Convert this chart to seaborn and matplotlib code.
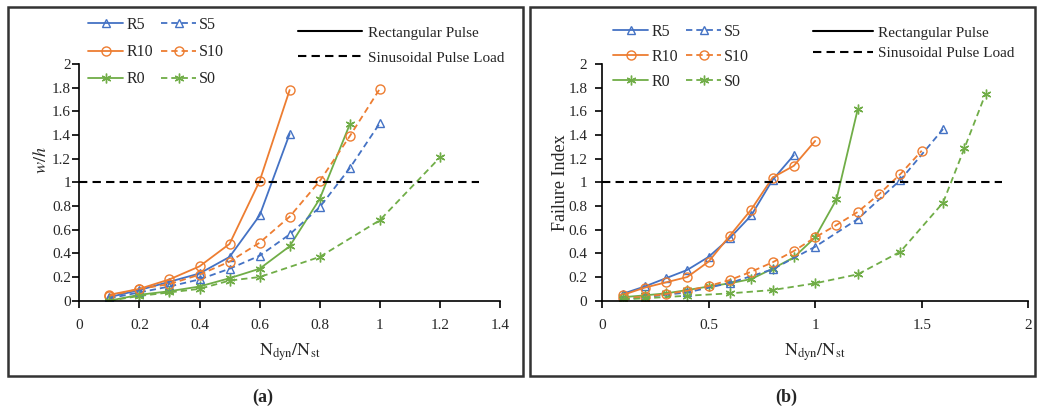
import numpy as np
import pandas as pd
import seaborn as sns
import matplotlib
matplotlib.use("Agg")
import matplotlib.pyplot as plt
from matplotlib.patches import Rectangle

# ---------------- data: panel (a) w/h ----------------
a_R5_x = [0.1, 0.2, 0.3, 0.4, 0.5, 0.6, 0.7]
a_R5_y = [0.03, 0.09, 0.16, 0.23, 0.37, 0.72, 1.41]
a_R10_x = [0.1, 0.2, 0.3, 0.4, 0.5, 0.6, 0.7]
a_R10_y = [0.05, 0.10, 0.18, 0.29, 0.48, 1.01, 1.78]
a_R0_x = [0.1, 0.2, 0.3, 0.4, 0.5, 0.6, 0.7, 0.8, 0.9]
a_R0_y = [0.0, 0.05, 0.08, 0.12, 0.19, 0.27, 0.46, 0.86, 1.49]
a_S5_x = [0.1, 0.2, 0.3, 0.4, 0.5, 0.6, 0.7, 0.8, 0.9, 1.0]
a_S5_y = [0.02, 0.07, 0.12, 0.18, 0.27, 0.38, 0.56, 0.79, 1.12, 1.50]
a_S10_x = [0.1, 0.2, 0.3, 0.4, 0.5, 0.6, 0.7, 0.8, 0.9, 1.0]
a_S10_y = [0.04, 0.10, 0.14, 0.22, 0.33, 0.49, 0.71, 1.01, 1.39, 1.79]
a_S0_x = [0.1, 0.2, 0.3, 0.4, 0.5, 0.6, 0.8, 1.0, 1.2]
a_S0_y = [0.0, 0.04, 0.07, 0.10, 0.17, 0.20, 0.37, 0.68, 1.21]

# ---------------- data: panel (b) failure index ----------------
b_R5_x = [0.1, 0.2, 0.3, 0.4, 0.5, 0.6, 0.7, 0.8, 0.9]
b_R5_y = [0.06, 0.12, 0.19, 0.26, 0.37, 0.53, 0.72, 1.02, 1.23]
b_R10_x = [0.1, 0.2, 0.3, 0.4, 0.5, 0.6, 0.7, 0.8, 0.9, 1.0]
b_R10_y = [0.05, 0.11, 0.155, 0.20, 0.33, 0.55, 0.77, 1.04, 1.14, 1.35]
b_R0_x = [0.1, 0.2, 0.3, 0.4, 0.5, 0.6, 0.7, 0.8, 0.9, 1.0, 1.1, 1.2]
b_R0_y = [0.03, 0.045, 0.062, 0.09, 0.12, 0.147, 0.183, 0.27, 0.366, 0.535, 0.856, 1.62]
b_S5_x = [0.1, 0.2, 0.4, 0.6, 0.8, 1.0, 1.2, 1.4, 1.6]
b_S5_y = [0.01, 0.03, 0.07, 0.15, 0.265, 0.456, 0.69, 1.02, 1.45]
b_S10_x = [0.1, 0.2, 0.3, 0.4, 0.5, 0.6, 0.7, 0.8, 0.9, 1.0, 1.1, 1.2, 1.3, 1.4, 1.5]
b_S10_y = [0.02, 0.034, 0.056, 0.084, 0.124, 0.175, 0.245, 0.324, 0.42, 0.535, 0.64, 0.75, 0.90, 1.07, 1.267]
b_S0_x = [0.1, 0.2, 0.4, 0.6, 0.8, 1.0, 1.2, 1.4, 1.6, 1.7, 1.8]
b_S0_y = [0.012, 0.02, 0.042, 0.062, 0.09, 0.147, 0.223, 0.414, 0.828, 1.287, 1.75]

series_names = ["R5", "R10", "R0", "S5", "S10", "S0"]
a_xticks = [0, 0.2, 0.4, 0.6, 0.8, 1, 1.2, 1.4]
a_xticklabels = ["0", "0.2", "0.4", "0.6", "0.8", "1", "1.2", "1.4"]
b_xticks = [0, 0.5, 1, 1.5, 2]
b_xticklabels = ["0", "0.5", "1", "1.5", "2"]
yticks = [0, 0.2, 0.4, 0.6, 0.8, 1, 1.2, 1.4, 1.6, 1.8, 2]
yticklabels = ["0", "0.2", "0.4", "0.6", "0.8", "1", "1.2", "1.4", "1.6", "1.8", "2"]
threshold = 1.0

panel_a = {
    "R5": (a_R5_x, a_R5_y), "R10": (a_R10_x, a_R10_y), "R0": (a_R0_x, a_R0_y),
    "S5": (a_S5_x, a_S5_y), "S10": (a_S10_x, a_S10_y), "S0": (a_S0_x, a_S0_y),
}
panel_b = {
    "R5": (b_R5_x, b_R5_y), "R10": (b_R10_x, b_R10_y), "R0": (b_R0_x, b_R0_y),
    "S5": (b_S5_x, b_S5_y), "S10": (b_S10_x, b_S10_y), "S0": (b_S0_x, b_S0_y),
}

def to_long(panel):
    rows = []
    for name, (xs, ys) in panel.items():
        for x, y in zip(xs, ys):
            rows.append({"series": name, "x": x, "y": y})
    return pd.DataFrame(rows)

df_a = to_long(panel_a)
df_b = to_long(panel_b)

# ---------------- style ----------------
sns.set_theme(style="ticks")
plt.rcParams["font.family"] = ["Liberation Serif", "DejaVu Serif"]
plt.rcParams["mathtext.fontset"] = "stix"
plt.rcParams["axes.linewidth"] = 1.2

BLUE = "#4472C4"
ORANGE = "#ED7D31"
GREEN = "#70AD47"
colors = {"R5": BLUE, "S5": BLUE, "R10": ORANGE, "S10": ORANGE, "R0": GREEN, "S0": GREEN}
markers = {"R5": "^", "S5": "^", "R10": "o", "S10": "o", "R0": (6, 2, 0), "S0": (6, 2, 0)}
msize = {"^": 6, "o": 6.5}
DASH = (0, (3.5, 2.2))

W, H = 1038, 411
fig = plt.figure(figsize=(W / 100, H / 100), dpi=100)

def px_ax(x0, x1, y0, y1):
    return fig.add_axes([x0 / W, (H - y0) / H, (x1 - x0) / W, (y0 - y1) / H])

ax_a = px_ax(79.3, 500.0, 300.7, 64.0)
ax_b = px_ax(602.0, 1028.3, 300.7, 64.0)

def draw_panel(ax, df, xmax, xticks, xticklabels, hline_end, ylabel, ylabel_y,
               ylabel_x, ypad, leg1, leg2):
    for name in series_names:
        sub = df[df["series"] == name]
        m = markers[name]
        ms = msize.get(m, 7) if isinstance(m, str) else 7
        sns.lineplot(data=sub, x="x", y="y", ax=ax, color=colors[name],
                     marker=m, markersize=ms, markerfacecolor="none",
                     markeredgecolor=colors[name], markeredgewidth=1.0,
                     linewidth=1.3, linestyle="-" if name.startswith("R") else DASH,
                     estimator=None, sort=False, label=name, legend=False)
    ax.plot([0, hline_end], [threshold, threshold], color="black",
            linestyle=(0, (4, 2.5)), linewidth=1.5)
    ax.set_xlim(0, xmax)
    ax.set_ylim(0, 2)
    ax.set_xticks(xticks)
    ax.set_xticklabels(xticklabels)
    ax.set_yticks(yticks)
    ax.set_yticklabels(yticklabels)
    ax.tick_params(axis="both", labelsize=11, length=5, width=1.2, color="black",
                   direction="out")
    ax.tick_params(axis="x", pad=8)
    ax.tick_params(axis="y", pad=ypad)
    sns.despine(ax=ax)
    ax.spines["left"].set_color("black")
    ax.spines["bottom"].set_color("black")
    ax.set_xlabel(r"$\mathrm{N_{dyn}/N_{st}}$", fontsize=13, labelpad=7)
    ax.set_ylabel(ylabel, fontsize=13)
    ax.yaxis.set_label_coords(ylabel_x, ylabel_y)
    ax.patch.set_alpha(0)

    lines = ax.get_lines()[:6]
    fig.legend(lines, series_names, ncol=2, loc="upper left",
               bbox_to_anchor=(leg1[0] / W, 1 - leg1[1] / H),
               frameon=False, fontsize=11.5, handlelength=2.2,
               handletextpad=0.2, columnspacing=0.5,
               labelspacing=leg1[2], borderpad=0, borderaxespad=0)
    solid = plt.Line2D([], [], color="black", linewidth=1.5, linestyle="-")
    dashed = plt.Line2D([], [], color="black", linewidth=1.5, linestyle=(0, (4, 2.5)))
    fig.legend([solid, dashed], ["Rectangular Pulse", "Sinusoidal Pulse Load"],
               loc="upper left", bbox_to_anchor=(leg2[0] / W, 1 - leg2[1] / H),
               frameon=False, fontsize=11, handlelength=leg2[3], handletextpad=0.35,
               labelspacing=leg2[2], borderpad=0, borderaxespad=0)

draw_panel(ax_a, df_a, 1.4, a_xticks, a_xticklabels, 1.33, r"$w/h$",
           (300.7 - 160) / 236.7, (50 - 79.3) / 420.7, 1.0,
           (88, 17, 0.7), (298, 26, 0.75, 4.2))
draw_panel(ax_b, df_b, 2.0, b_xticks, b_xticklabels, 1.875, "Failure Index",
           0.5, (569 - 602) / 426.3, 5.5,
           (613, 24, 0.55), (813, 26, 0.45, 3.9))

# panel frames
for x0, x1 in [(8, 523), (530, 1035)]:
    fig.patches.append(Rectangle((x0 / W, (H - 376) / H), (x1 - x0) / W,
                                 (376 - 7) / H, transform=fig.transFigure,
                                 fill=False, edgecolor="#333333", linewidth=1.8))

fig.text(263 / W, 1 - 397 / H, "(a)", ha="center", va="center",
         fontsize=13, fontweight="bold")
fig.text(786 / W, 1 - 397 / H, "(b)", ha="center", va="center",
         fontsize=13, fontweight="bold")

fig.savefig("out.png", dpi=100)
